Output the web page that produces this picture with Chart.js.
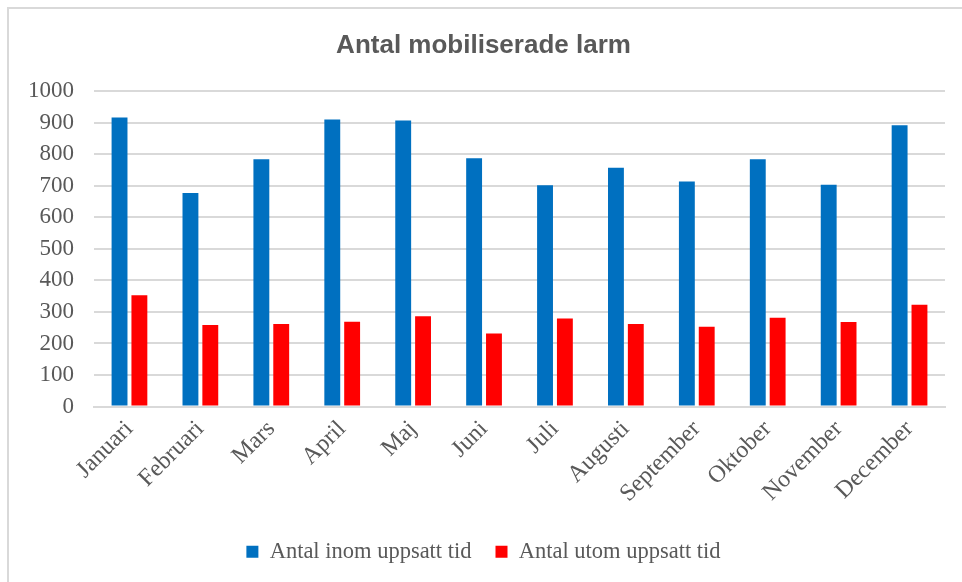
<!DOCTYPE html>
<html>
<head>
<meta charset="utf-8">
<script src="https://cdn.jsdelivr.net/npm/chart.js@4"></script>
<style>
  html, body { margin: 0; padding: 0; background: #fff; }
  #wrap { position: relative; width: 962px; height: 582px; overflow: hidden; }
  #frame { position: absolute; left: 7px; top: 7px; width: 1000px; height: 600px;
           border-left: 2px solid #d9d9d9; border-top: 2px solid #d9d9d9; }
  canvas { position: absolute; left: 0; top: 0; }
</style>
</head>
<body>
<div id="wrap">
  <div id="frame"></div>
  <canvas id="larmChart" width="962" height="582"></canvas>
</div>
<script>
const months = ['Januari', 'Februari', 'Mars', 'April', 'Maj', 'Juni', 'Juli',
    'Augusti', 'September', 'Oktober', 'November', 'December'];
const inomTid = [917, 677, 784, 910, 907, 787, 702, 757, 714, 784, 703, 892];
const utomTid = [353, 259, 262, 269, 286, 232, 279, 262, 253, 282, 268, 323];
const yTicks = [0, 100, 200, 300, 400, 500, 600, 700, 800, 900, 1000];

const serif = '"Liberation Serif", "Times New Roman", serif';
const grey = '#595959';

const ctx = document.getElementById('larmChart').getContext('2d');
const larmChart = new Chart(ctx, {
    type: 'bar',
    data: {
        labels: months,
        datasets: [{
            label: 'Antal inom uppsatt tid',
            data: inomTid,
            backgroundColor: '#0070c0',
            categoryPercentage: 0.56,
            barPercentage: 0.8
        }, {
            label: 'Antal utom uppsatt tid',
            data: utomTid,
            backgroundColor: '#ff0000',
            categoryPercentage: 0.56,
            barPercentage: 0.8
        }]
    },
    options: {
        responsive: false,
        animation: false,
        layout: {
            padding: { left: 22, right: 17, top: 10, bottom: 9 }
        },
        plugins: {
            title: {
                display: true,
                text: 'Antal mobiliserade larm',
                color: grey,
                font: { family: '"Liberation Sans", Arial, sans-serif', size: 26, weight: 'bold' },
                padding: { top: 20, bottom: 30 }
            },
            legend: {
                position: 'bottom',
                labels: {
                    color: grey,
                    font: { family: serif, size: 22.5 },
                    boxWidth: 12,
                    boxHeight: 12,
                    padding: 24
                }
            },
            tooltip: { enabled: false }
        },
        scales: {
            x: {
                grid: { display: false, drawTicks: false },
                border: { color: '#d9d9d9', width: 2 },
                ticks: {
                    color: grey,
                    font: { family: serif, size: 24 },
                    minRotation: 45,
                    maxRotation: 45,
                    padding: 8.5
                },
                afterFit: (axis) => { axis.paddingLeft = 0; axis.paddingRight = 0; }
            },
            y: {
                min: 0,
                max: 1000,
                afterBuildTicks: (axis) => { axis.ticks = yTicks.map(v => ({ value: v })); },
                afterFit: (axis) => { axis.width = 72; },
                grid: { color: '#d9d9d9', lineWidth: 2, drawTicks: false },
                border: { display: false },
                ticks: {
                    color: grey,
                    font: { family: serif, size: 23 },
                    padding: 20,
                    callback: (v) => String(v)
                }
            }
        }
    }
});
</script>
</body>
</html>
